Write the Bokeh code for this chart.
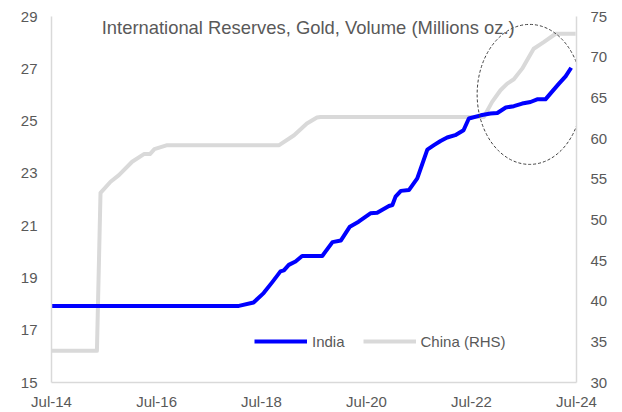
from datetime import datetime

from bokeh.embed import file_html
from bokeh.resources import INLINE
from bokeh.plotting import figure
from bokeh.models import (ColumnDataSource, Range1d, LinearAxis, FixedTicker,
                          DatetimeTickFormatter, Legend, LegendItem, Label, Ellipse)

# India gold reserves, million troy oz (left axis)
india_dates = [
    "2014-07-01", "2018-01-25", "2018-05-07", "2018-07-16", "2018-09-13", "2018-11-10",
    "2018-12-04", "2019-01-07", "2019-02-23", "2019-04-10", "2019-08-28", "2019-11-07",
    "2020-01-04", "2020-03-07", "2020-05-07", "2020-07-28", "2020-09-13", "2020-12-04",
    "2020-12-28", "2021-01-19", "2021-02-25", "2021-04-22", "2021-06-19", "2021-08-28",
    "2021-10-13", "2021-11-28", "2022-01-13", "2022-03-10", "2022-05-07", "2022-06-13",
    "2022-09-04", "2022-11-10", "2022-12-28", "2023-02-25", "2023-04-22", "2023-06-19",
    "2023-08-16", "2023-10-01", "2023-11-28", "2024-01-04", "2024-03-01", "2024-04-16",
    "2024-05-25",
]
india_values = [
    17.93, 17.93, 18.06, 18.42, 18.83, 19.25,
    19.29, 19.50, 19.63, 19.84, 19.84, 20.37,
    20.43, 20.96, 21.15, 21.47, 21.49, 21.75,
    21.79, 22.11, 22.33, 22.36, 22.81, 23.91,
    24.08, 24.24, 24.37, 24.46, 24.65, 25.10,
    25.22, 25.29, 25.31, 25.52, 25.57, 25.67,
    25.73, 25.83, 25.83, 26.07, 26.43, 26.71,
    27.04,
]

# China gold reserves, million troy oz (right axis)
china_dates = [
    "2014-07-01", "2015-05-13", "2015-06-07", "2015-08-16", "2015-10-13", "2016-01-13",
    "2016-04-04", "2016-05-16", "2016-06-16", "2016-09-13", "2018-11-01", "2019-02-13",
    "2019-05-13", "2019-07-22", "2019-08-16", "2022-09-25", "2022-11-22", "2023-01-19",
    "2023-03-07", "2023-04-22", "2023-06-19", "2023-09-07", "2023-11-16", "2024-02-07",
    "2024-06-25",
]
china_values = [
    33.89, 33.89, 53.31, 54.68, 55.50, 57.14,
    58.08, 58.08, 58.69, 59.18, 59.18, 60.40,
    61.84, 62.58, 62.65, 62.65, 64.50, 65.93,
    66.75, 67.28, 68.59, 71.04, 71.85, 72.88,
    72.88,
]

left_ticks = [15, 17, 19, 21, 23, 25, 27, 29]
right_ticks = [30, 35, 40, 45, 50, 55, 60, 65, 70, 75]
x_tick_dates = ["2014-07-01", "2016-07-01", "2018-07-01", "2020-07-01",
                "2022-07-01", "2024-07-01"]

TEXT = "#595959"
AXIS = "#d9d9d9"
BLUE = "#0000ff"
GREY = "#d9d9d9"
FONT = "Liberation Sans"


def to_dt(s):
    return datetime.strptime(s, "%Y-%m-%d")


def to_ms(s):
    return (to_dt(s) - datetime(1970, 1, 1)).total_seconds() * 1000.0


india_src = ColumnDataSource(dict(x=[to_dt(d) for d in india_dates], y=india_values))
china_src = ColumnDataSource(dict(x=[to_dt(d) for d in china_dates], y=china_values))

p = figure(width=622, height=412, x_axis_type="datetime",
           x_range=Range1d(to_dt("2014-07-01"), to_dt("2024-07-01")),
           y_range=Range1d(15, 29),
           output_backend="svg", toolbar_location=None,
           min_border_left=51, min_border_right=46,
           min_border_top=16, min_border_bottom=29)
p.extra_y_ranges = {"china": Range1d(30, 75)}
p.outline_line_color = None
p.background_fill_color = "white"
p.border_fill_color = "white"
p.xgrid.visible = False
p.ygrid.visible = False


def style_axis(ax):
    ax.axis_line_color = AXIS
    ax.axis_line_width = 1.5
    ax.major_tick_line_color = None
    ax.minor_tick_line_color = None
    ax.major_tick_out = 0
    ax.major_tick_in = 0
    ax.minor_tick_out = 0
    ax.minor_tick_in = 0
    ax.major_label_text_color = TEXT
    ax.major_label_text_font = FONT
    ax.major_label_text_font_size = "15px"


# Bottom date axis
xa = p.xaxis[0]
xa.ticker = FixedTicker(ticks=[to_ms(d) for d in x_tick_dates])
fmt = "%b-%y"
xa.formatter = DatetimeTickFormatter(years=fmt, months=fmt, days=fmt, hours=fmt,
                                     minutes=fmt, seconds=fmt, milliseconds=fmt)
style_axis(xa)
xa.major_label_standoff = 10

# Left axis (India)
ya = p.yaxis[0]
ya.ticker = FixedTicker(ticks=left_ticks)
style_axis(ya)
ya.major_label_standoff = 14

# Right axis (China)
ra = LinearAxis(y_range_name="china", ticker=FixedTicker(ticks=right_ticks))
style_axis(ra)
ra.major_label_standoff = 14
p.add_layout(ra, "right")

china_r = p.line("x", "y", source=china_src, y_range_name="china",
                 line_color=GREY, line_width=4, line_join="round")
india_r = p.line("x", "y", source=india_src,
                 line_color=BLUE, line_width=4, line_join="round")

# Dashed ring around the latest period
ring = Ellipse(x=to_dt("2023-08-10"), y=26.02, width=105, height=140,
               width_units="screen", height_units="screen",
               fill_color=None, line_color="#404040", line_width=1,
               line_dash="3 2")
p.add_glyph(ring)

title = Label(x=to_dt("2019-05-22"), y=28.57, text="International Reserves, Gold, Volume (Millions oz.)",
              text_align="center", text_baseline="alphabetic",
              text_font=FONT, text_font_size="18.4px", text_color=TEXT)
p.add_layout(title)

legend = Legend(items=[LegendItem(label="India", renderers=[india_r]),
                       LegendItem(label="China (RHS)", renderers=[china_r])],
                location=(203, 31), orientation="horizontal",
                border_line_color=None, background_fill_alpha=0,
                padding=0, margin=0, spacing=18,
                glyph_width=53, glyph_height=20, label_height=20,
                label_standoff=5, label_text_font=FONT,
                label_text_font_size="15px", label_text_color=TEXT)
p.add_layout(legend, "center")

open("out.html", "w").write(file_html(p, INLINE))
